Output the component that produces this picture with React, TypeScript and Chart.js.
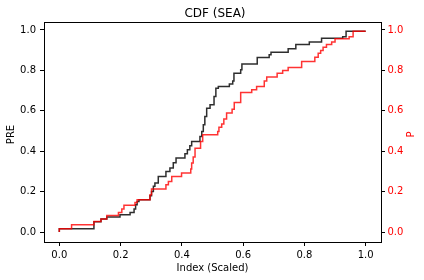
import React, { useEffect, useRef } from "react";
import { Chart, registerables } from "chart.js";

Chart.register(...registerables);

// PRE series (black), step CDF
const preIndex = [0, 0, 0.113, 0.136, 0.155, 0.198, 0.231, 0.244, 0.249, 0.254, 0.26, 0.296, 0.301, 0.307, 0.312, 0.323, 0.348, 0.361, 0.372, 0.381, 0.41, 0.418, 0.426, 0.432, 0.459, 0.465, 0.47, 0.475, 0.481, 0.492, 0.505, 0.511, 0.519, 0.555, 0.566, 0.57, 0.592, 0.596, 0.646, 0.685, 0.691, 0.747, 0.772, 0.816, 0.856, 0.925, 0.936, 1.0];
const preCdf = [0, 0.016, 0.051, 0.064, 0.074, 0.086, 0.097, 0.114, 0.135, 0.151, 0.16, 0.18, 0.201, 0.226, 0.242, 0.275, 0.3, 0.317, 0.343, 0.366, 0.387, 0.407, 0.427, 0.448, 0.473, 0.498, 0.531, 0.572, 0.613, 0.63, 0.671, 0.712, 0.72, 0.733, 0.748, 0.786, 0.803, 0.831, 0.864, 0.877, 0.89, 0.907, 0.928, 0.94, 0.959, 0.967, 0.994, 0.994];

// P series (red), step CDF
const pIndex = [0, 0, 0.04, 0.113, 0.136, 0.155, 0.193, 0.204, 0.211, 0.247, 0.254, 0.296, 0.301, 0.348, 0.356, 0.367, 0.399, 0.429, 0.432, 0.437, 0.443, 0.461, 0.468, 0.517, 0.521, 0.53, 0.537, 0.546, 0.564, 0.571, 0.592, 0.628, 0.644, 0.669, 0.677, 0.711, 0.729, 0.747, 0.791, 0.834, 0.845, 0.853, 0.861, 0.872, 0.889, 0.9, 0.946, 0.959, 1.0];
const pCdf = [0, 0.016, 0.036, 0.052, 0.064, 0.082, 0.097, 0.114, 0.132, 0.146, 0.16, 0.185, 0.213, 0.234, 0.25, 0.275, 0.292, 0.312, 0.341, 0.371, 0.415, 0.448, 0.481, 0.498, 0.519, 0.534, 0.559, 0.589, 0.608, 0.641, 0.69, 0.704, 0.72, 0.748, 0.767, 0.786, 0.799, 0.814, 0.844, 0.865, 0.885, 0.898, 0.915, 0.928, 0.94, 0.956, 0.967, 0.994, 0.994];

const xTicks = [0, 0.2, 0.4, 0.6, 0.8, 1.0];
const yTicks = [0, 0.2, 0.4, 0.6, 0.8, 1.0];

const titleText = "CDF (SEA)";
const xLabel = "Index (Scaled)";
const leftLabel = "PRE";
const rightLabel = "P";

const FONT = "DejaVu Sans";

const textPlugin = {
  id: "mplText",
  afterDraw(chart: any) {
    const ctx = chart.ctx;
    const a = chart.chartArea;
    ctx.save();
    // top spine
    ctx.strokeStyle = "#000";
    ctx.lineWidth = 1;
    ctx.beginPath();
    ctx.moveTo(a.left, Math.round(a.top) + 0.5);
    ctx.lineTo(a.right + 0.5, Math.round(a.top) + 0.5);
    ctx.stroke();
    // title
    ctx.fillStyle = "#000";
    ctx.font = `12px "${FONT}"`;
    ctx.textAlign = "center";
    ctx.textBaseline = "alphabetic";
    ctx.fillText(titleText, 215, 17);
    // x label
    ctx.font = `10px "${FONT}"`;
    ctx.fillText(xLabel, (a.left + a.right) / 2, 270.5);
    // left y label
    ctx.save();
    ctx.translate(14, 134.5);
    ctx.rotate(-Math.PI / 2);
    ctx.fillText(leftLabel, 0, 0);
    ctx.restore();
    // right y label
    ctx.save();
    ctx.fillStyle = "red";
    ctx.translate(413.5, 134.5);
    ctx.rotate(-Math.PI / 2);
    ctx.fillText(rightLabel, 0, 0);
    ctx.restore();
    ctx.restore();
  },
};

export default function App() {
  const ref = useRef<HTMLCanvasElement | null>(null);
  useEffect(() => {
    if (!ref.current) return;
    const toPts = (xs: number[], ys: number[]) => xs.map((x, i) => ({ x, y: ys[i] }));
    const chart = new Chart(ref.current, {
      type: "scatter",
      data: {
        datasets: [
          {
            label: "PRE",
            data: toPts(preIndex, preCdf),
            showLine: true,
            stepped: "before",
            borderColor: "rgba(0,0,0,0.82)",
            backgroundColor: "rgba(0,0,0,0.82)",
            borderWidth: 1.5,
            pointRadius: 0,
            yAxisID: "y",
            order: 2,
          },
          {
            label: "P",
            data: toPts(pIndex, pCdf),
            showLine: true,
            stepped: "before",
            borderColor: "rgba(255,0,0,0.8)",
            backgroundColor: "rgba(255,0,0,0.8)",
            borderWidth: 1.5,
            pointRadius: 0,
            yAxisID: "y2",
            order: 1,
          },
        ],
      },
      options: {
        animation: false,
        responsive: false,
        devicePixelRatio: 1,
        layout: { padding: { top: 22, left: 0, right: 0, bottom: 0 } },
        plugins: { legend: { display: false }, tooltip: { enabled: false }, title: { display: false } },
        scales: {
          x: {
            type: "linear",
            position: "bottom",
            min: -0.05,
            max: 1.05,
            afterFit: (s: any) => { s.height = 38; },
            afterBuildTicks: (s: any) => { s.ticks = xTicks.map((v) => ({ value: v })); },
            ticks: {
              callback: (v: any) => Number(v).toFixed(1),
              font: { family: FONT, size: 10 },
              color: "#000",
              padding: 3.5,
              maxRotation: 0,
            },
            grid: { drawOnChartArea: false, drawTicks: true, tickLength: 4, tickColor: "#000", tickWidth: 1 },
            border: { display: true, color: "#000", width: 1 },
          },
          y: {
            type: "linear",
            position: "left",
            min: -0.0495,
            max: 1.0395,
            afterFit: (s: any) => { s.width = 44; },
            afterBuildTicks: (s: any) => { s.ticks = yTicks.map((v) => ({ value: v })); },
            ticks: {
              callback: (v: any) => Number(v).toFixed(1),
              font: { family: FONT, size: 10 },
              color: "#000",
              padding: 4,
            },
            grid: { drawOnChartArea: false, drawTicks: true, tickLength: 4, tickColor: "#000", tickWidth: 1 },
            border: { display: true, color: "#000", width: 1 },
          },
          y2: {
            type: "linear",
            position: "right",
            min: -0.0495,
            max: 1.0395,
            afterFit: (s: any) => { s.width = 43; },
            afterBuildTicks: (s: any) => { s.ticks = yTicks.map((v) => ({ value: v })); },
            ticks: {
              callback: (v: any) => Number(v).toFixed(1),
              font: { family: FONT, size: 10 },
              color: "red",
              padding: 2.5,
            },
            grid: { drawOnChartArea: false, drawTicks: true, tickLength: 4, tickColor: "#000", tickWidth: 1 },
            border: { display: true, color: "#000", width: 1 },
          },
        },
      },
      plugins: [textPlugin],
    });
    return () => chart.destroy();
  }, []);
  return (
    <div style={{ position: "absolute", left: 0, top: 0, width: 424, height: 280, background: "#fff" }}>
      <canvas ref={ref} width={424} height={280} style={{ display: "block" }} />
    </div>
  );
}
